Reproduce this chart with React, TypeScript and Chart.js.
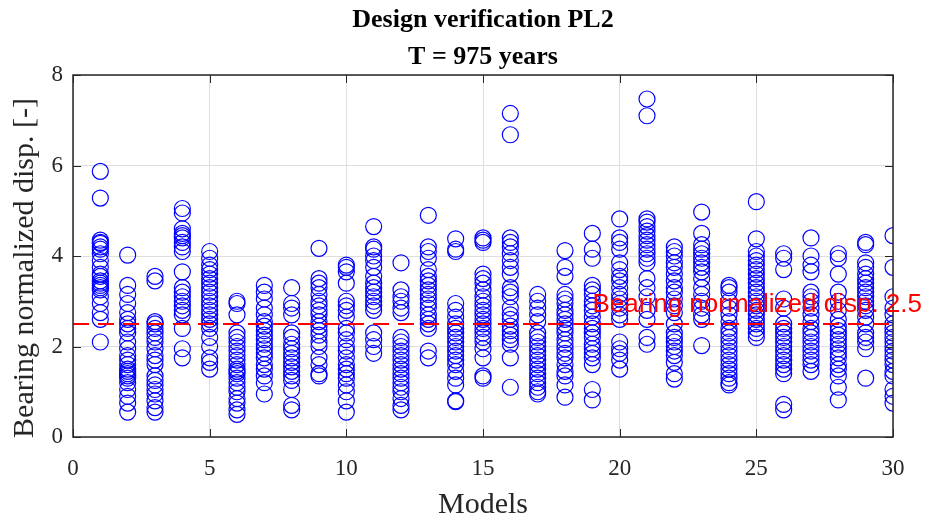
import { useEffect, useRef } from "react";
import { Chart, registerables } from "chart.js";

Chart.register(...registerables);

const TITLE_LINES = ["Design verification PL2", "T = 975 years"];
const X_LABEL = "Models";
const Y_LABEL = "Bearing normalized disp. [-]";
const LIMIT = 2.5;
const LIMIT_LABEL = "Bearing normalized disp. 2.5";
const X_TICKS = [0, 5, 10, 15, 20, 25, 30];
const Y_TICKS = [0, 2, 4, 6, 8];

// Normalized bearing displacement per ground motion, one array per model
const disp1 = [5.87, 5.28, 4.35, 4.3, 4.28, 4.2, 4.15, 4.05, 3.9, 3.75, 3.6, 3.55, 3.45, 3.4, 3.35, 3.3, 3.25, 3.1, 2.95, 2.75, 2.6, 2.1];
const disp2 = [4.02, 3.35, 3.15, 2.95, 2.75, 2.6, 2.5, 2.4, 2.3, 2.1, 1.95, 1.8, 1.7, 1.6, 1.5, 1.45, 1.4, 1.35, 1.3, 1.2, 1.05, 0.9, 0.75, 0.55];
const disp3 = [3.55, 3.45, 2.55, 2.5, 2.4, 2.3, 2.2, 2.1, 1.95, 1.8, 1.7, 1.6, 1.35, 1.25, 1.15, 1.05, 0.95, 0.8, 0.65, 0.55];
const disp4 = [5.05, 4.95, 4.6, 4.5, 4.45, 4.4, 4.3, 4.2, 4.1, 3.65, 3.3, 3.2, 3.1, 3.0, 2.9, 2.8, 2.7, 2.4, 1.95, 1.75];
const disp5 = [4.1, 3.95, 3.8, 3.7, 3.6, 3.5, 3.4, 3.3, 3.2, 3.1, 3.0, 2.9, 2.8, 2.7, 2.6, 2.5, 2.4, 2.2, 2.0, 1.75, 1.65, 1.5];
const disp6 = [3.0, 2.95, 2.7, 2.3, 2.2, 2.1, 2.0, 1.9, 1.8, 1.7, 1.6, 1.5, 1.45, 1.4, 1.3, 1.2, 1.1, 1.0, 0.85, 0.75, 0.6, 0.5];
const disp7 = [3.35, 3.2, 3.05, 2.85, 2.7, 2.55, 2.45, 2.35, 2.25, 2.15, 2.05, 1.95, 1.85, 1.75, 1.6, 1.5, 1.35, 1.2, 0.95];
const disp8 = [3.3, 2.95, 2.85, 2.7, 2.3, 2.2, 2.05, 1.95, 1.85, 1.75, 1.65, 1.55, 1.45, 1.35, 1.25, 1.05, 0.7, 0.6];
const disp9 = [4.17, 3.5, 3.4, 3.3, 3.15, 3.0, 2.9, 2.8, 2.7, 2.55, 2.45, 2.35, 2.25, 2.1, 2.0, 1.75, 1.6, 1.4, 1.35];
const disp10 = [3.8, 3.75, 3.65, 3.4, 3.0, 2.9, 2.8, 2.65, 2.4, 2.3, 2.15, 2.0, 1.9, 1.75, 1.6, 1.5, 1.4, 1.3, 1.15, 1.0, 0.8, 0.55];
const disp11 = [4.65, 4.2, 4.15, 4.0, 3.9, 3.75, 3.55, 3.4, 3.3, 3.2, 3.1, 3.0, 2.9, 2.8, 2.3, 2.15, 2.0, 1.85];
const disp12 = [3.85, 3.25, 3.1, 3.0, 2.85, 2.75, 2.2, 2.1, 2.0, 1.9, 1.8, 1.7, 1.6, 1.5, 1.4, 1.3, 1.2, 1.1, 1.0, 0.85, 0.7, 0.6];
const disp13 = [4.9, 4.2, 4.1, 3.95, 3.7, 3.55, 3.45, 3.35, 3.25, 3.15, 3.05, 2.95, 2.85, 2.7, 2.6, 2.5, 2.4, 1.9, 1.75];
const disp14 = [4.38, 4.15, 4.1, 2.95, 2.8, 2.65, 2.5, 2.4, 2.3, 2.2, 2.1, 2.0, 1.9, 1.8, 1.7, 1.6, 1.45, 1.3, 1.15, 0.8, 0.78];
const disp15 = [4.4, 4.35, 4.3, 3.6, 3.5, 3.4, 3.25, 3.1, 3.0, 2.9, 2.8, 2.7, 2.6, 2.5, 2.4, 2.3, 2.2, 2.1, 1.95, 1.75, 1.35, 1.3];
const disp16 = [7.15, 6.68, 4.4, 4.3, 4.2, 4.05, 3.9, 3.75, 3.6, 3.3, 3.2, 3.1, 2.85, 2.7, 2.6, 2.45, 2.35, 2.25, 2.15, 2.05, 1.75, 1.1];
const disp17 = [3.15, 3.0, 2.85, 2.7, 2.55, 2.3, 2.2, 2.1, 2.0, 1.9, 1.8, 1.7, 1.6, 1.5, 1.4, 1.3, 1.2, 1.1, 1.0, 0.95];
const disp18 = [4.12, 3.75, 3.55, 3.15, 3.05, 2.95, 2.8, 2.7, 2.6, 2.5, 2.4, 2.3, 2.15, 2.05, 1.95, 1.85, 1.75, 1.6, 1.45, 1.35, 1.15, 0.88];
const disp19 = [4.5, 4.15, 3.95, 3.35, 3.25, 3.15, 3.0, 2.9, 2.8, 2.65, 2.5, 2.4, 2.3, 2.2, 2.05, 1.95, 1.85, 1.75, 1.6, 1.05, 0.82];
const disp20 = [4.82, 4.4, 4.3, 4.15, 3.85, 3.7, 3.55, 3.45, 3.3, 3.15, 3.05, 2.95, 2.85, 2.7, 2.6, 2.1, 1.95, 1.85, 1.7, 1.5];
const disp21 = [7.47, 7.1, 4.82, 4.75, 4.65, 4.55, 4.45, 4.35, 4.25, 4.15, 4.05, 3.95, 3.85, 3.5, 3.3, 3.1, 2.8, 2.6, 2.2, 2.05];
const disp22 = [4.2, 4.1, 4.0, 3.85, 3.75, 3.6, 3.45, 3.3, 3.2, 3.05, 2.9, 2.75, 2.5, 2.3, 2.2, 2.1, 2.0, 1.9, 1.8, 1.65, 1.4, 1.28];
const disp23 = [4.97, 4.5, 4.25, 4.15, 4.05, 3.95, 3.85, 3.75, 3.65, 3.5, 3.3, 3.15, 3.0, 2.85, 2.7, 2.6, 2.02];
const disp24 = [3.35, 3.3, 3.2, 3.0, 2.85, 2.7, 2.55, 2.4, 2.3, 2.2, 2.1, 2.0, 1.9, 1.8, 1.7, 1.6, 1.5, 1.4, 1.3, 1.2, 1.15];
const disp25 = [5.2, 4.38, 4.1, 4.0, 3.9, 3.8, 3.7, 3.6, 3.5, 3.4, 3.3, 3.2, 3.1, 3.0, 2.9, 2.8, 2.7, 2.6, 2.5, 2.4, 2.3, 2.2];
const disp26 = [4.05, 3.95, 3.7, 3.05, 2.85, 2.5, 2.4, 2.3, 2.2, 2.1, 2.0, 1.9, 1.8, 1.7, 1.6, 1.5, 1.4, 0.72, 0.6];
const disp27 = [4.4, 4.0, 3.8, 3.65, 3.2, 3.1, 3.0, 2.85, 2.7, 2.55, 2.4, 2.3, 2.2, 2.1, 2.0, 1.9, 1.8, 1.7, 1.6, 1.45];
const disp28 = [4.05, 3.95, 3.6, 3.2, 3.0, 2.8, 2.6, 2.45, 2.35, 2.25, 2.15, 2.05, 1.95, 1.85, 1.75, 1.6, 1.5, 1.35, 1.1, 0.82];
const disp29 = [4.3, 4.25, 3.85, 3.75, 3.6, 3.5, 3.4, 3.3, 3.2, 3.1, 3.0, 2.9, 2.8, 2.65, 2.5, 2.3, 2.2, 2.1, 1.95, 1.3];
const disp30 = [4.45, 3.75, 3.1, 2.85, 2.7, 2.5, 2.4, 2.3, 2.2, 2.1, 2.0, 1.9, 1.8, 1.7, 1.6, 1.45, 1.35, 1.05, 0.9, 0.75];

const dispByModel = [
  disp1, disp2, disp3, disp4, disp5, disp6, disp7, disp8, disp9, disp10,
  disp11, disp12, disp13, disp14, disp15, disp16, disp17, disp18, disp19, disp20,
  disp21, disp22, disp23, disp24, disp25, disp26, disp27, disp28, disp29, disp30,
];

const SERIF = "'Liberation Serif', 'Times New Roman', serif";
const SANS = "'Liberation Sans', Arial, sans-serif";
const AXIS_COLOR = "#262626";

const decorations = {
  id: "decorations",
  beforeDraw(chart: any) {
    const { ctx, width, height } = chart;
    ctx.save();
    ctx.fillStyle = "#ffffff";
    ctx.fillRect(0, 0, width, height);
    ctx.restore();
  },
  afterDraw(chart: any) {
    const { ctx, chartArea: a, scales } = chart;
    const xs = scales.x;
    const ys = scales.y;
    ctx.save();

    // axes box with inward ticks
    ctx.strokeStyle = AXIS_COLOR;
    ctx.lineWidth = 1.5;
    ctx.strokeRect(a.left, a.top, a.right - a.left, a.bottom - a.top);
    ctx.lineWidth = 1;
    const tl = 8;
    ctx.beginPath();
    for (const t of X_TICKS) {
      const px = Math.round(xs.getPixelForValue(t)) + 0.5;
      ctx.moveTo(px, a.bottom);
      ctx.lineTo(px, a.bottom - tl);
      ctx.moveTo(px, a.top);
      ctx.lineTo(px, a.top + tl);
    }
    for (const t of Y_TICKS) {
      const py = Math.round(ys.getPixelForValue(t)) + 0.5;
      ctx.moveTo(a.left, py);
      ctx.lineTo(a.left + tl, py);
      ctx.moveTo(a.right, py);
      ctx.lineTo(a.right - tl, py);
    }
    ctx.stroke();

    // threshold label
    ctx.fillStyle = "#ff0000";
    ctx.font = `26px ${SANS}`;
    ctx.textAlign = "right";
    ctx.textBaseline = "alphabetic";
    ctx.fillText(LIMIT_LABEL, xs.getPixelForValue(30) + 29, ys.getPixelForValue(LIMIT) - 12);

    // title
    const cx = (a.left + a.right) / 2;
    ctx.fillStyle = "#000000";
    ctx.textAlign = "center";
    ctx.font = `bold 26px ${SERIF}`;
    ctx.fillText(TITLE_LINES[0], cx, 27);
    ctx.fillText(TITLE_LINES[1], cx, 64);

    // axis titles
    ctx.fillStyle = AXIS_COLOR;
    ctx.font = `30px ${SERIF}`;
    ctx.fillText(X_LABEL, cx, 513);
    ctx.save();
    ctx.translate(33, 268);
    ctx.rotate(-Math.PI / 2);
    ctx.fillText(Y_LABEL, 0, 0);
    ctx.restore();

    ctx.restore();
  },
};

export default function App() {
  const canvasRef = useRef<HTMLCanvasElement | null>(null);

  useEffect(() => {
    const canvas = canvasRef.current;
    if (!canvas) return;

    const points: { x: number; y: number }[] = [];
    dispByModel.forEach((vals, i) => {
      for (const v of vals) points.push({ x: i + 1, y: v });
    });

    const chart = new Chart(canvas, {
      type: "scatter",
      data: {
        datasets: [
          {
            type: "line",
            data: [
              { x: 0, y: LIMIT },
              { x: 30, y: LIMIT },
            ],
            borderColor: "#ff0000",
            borderWidth: 2,
            borderDash: [16, 9],
            pointRadius: 0,
            fill: false,
            order: 0,
          } as any,
          {
            data: points,
            pointStyle: "circle",
            pointRadius: 8,
            pointHoverRadius: 8,
            borderWidth: 1.2,
            borderColor: "#0000ff",
            backgroundColor: "rgba(0,0,0,0)",
            order: 1,
          },
        ],
      },
      options: {
        animation: false,
        responsive: false,
        events: [],
        layout: { padding: { top: 75, right: 37, left: 0, bottom: 0 } },
        plugins: {
          legend: { display: false },
          tooltip: { enabled: false },
          title: { display: false },
        },
        scales: {
          x: {
            type: "linear",
            min: 0,
            max: 30,
            afterBuildTicks: (s: any) => {
              s.ticks = X_TICKS.map((v) => ({ value: v }));
            },
            afterFit: (s: any) => {
              s.height = 88;
            },
            ticks: {
              font: { family: SERIF, size: 23 },
              color: AXIS_COLOR,
              padding: 18,
              maxRotation: 0,
            },
            grid: { color: "#dedede", lineWidth: 1, drawTicks: false },
            border: { display: false },
          },
          y: {
            type: "linear",
            min: 0,
            max: 8,
            afterBuildTicks: (s: any) => {
              s.ticks = Y_TICKS.map((v) => ({ value: v }));
            },
            afterFit: (s: any) => {
              s.width = 73;
            },
            ticks: {
              font: { family: SERIF, size: 23 },
              color: AXIS_COLOR,
              padding: 10,
            },
            grid: { color: "#dedede", lineWidth: 1, drawTicks: false },
            border: { display: false },
          },
        },
      },
      plugins: [decorations],
    });

    return () => chart.destroy();
  }, []);

  return (
    <div style={{ position: "absolute", left: 0, top: 0, width: 930, height: 525 }}>
      <canvas ref={canvasRef} width={930} height={525} />
    </div>
  );
}
